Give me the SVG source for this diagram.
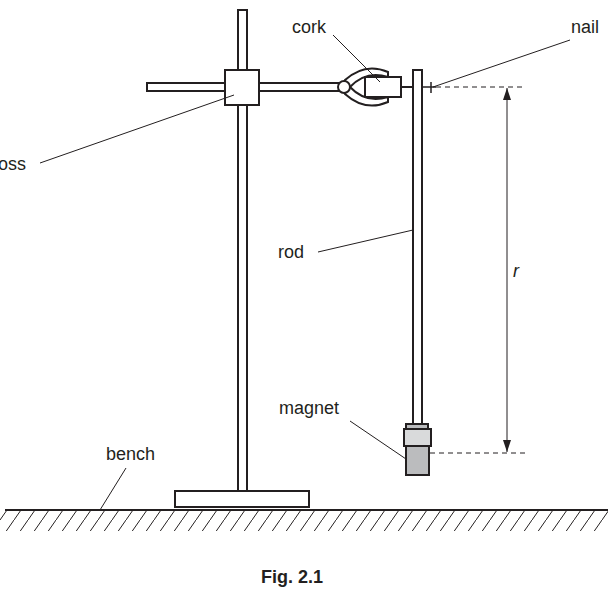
<svg xmlns="http://www.w3.org/2000/svg" width="608" height="590" viewBox="0 0 608 590">
<defs>
<style>
.s{fill:#fff;stroke:#231f20;stroke-width:2}
.l{stroke:#231f20;stroke-width:1;fill:none}
.d{stroke:#231f20;stroke-width:1;stroke-dasharray:5 4;fill:none}
text{font-family:"Liberation Sans",Arial,sans-serif;font-size:18px;fill:#231f20}
</style>
<marker id="a" markerWidth="12" markerHeight="8" refX="12" refY="4" orient="auto-start-reverse" markerUnits="userSpaceOnUse"><path d="M0,0 L12,4 L0,8 Z" fill="#231f20"/></marker>
<pattern id="h" width="14" height="20" patternUnits="userSpaceOnUse"><path d="M14,0 L0,20" stroke="#231f20" stroke-width="1"/></pattern>
</defs>
<g id="ground"><rect x="0" y="511" width="608" height="20" fill="url(#h)"/><line x1="5" y1="510" x2="608" y2="510" stroke="#231f20" stroke-width="2"/></g>
<g id="stand">
<rect class="s" x="238" y="10" width="9" height="482"/>
<rect class="s" x="175" y="491" width="134" height="16"/>
<rect class="s" x="147" y="83" width="195" height="8"/>
<rect class="s" x="225" y="70" width="34" height="35"/>
</g>
<g id="clamp">
<path class="s" d="M345,80 Q365,62 388,72 L388,77 Q366,70 350,87 Q366,104 388,97 L388,102 Q365,112 345,94 Z"/>
<circle class="s" cx="344" cy="87" r="6"/>
<rect class="s" x="365" y="77" width="36" height="20"/>
<line x1="401" y1="87" x2="412" y2="87" stroke="#231f20" stroke-width="2"/>
</g>
<g id="rod">
<rect class="s" x="413" y="70" width="9" height="355"/>
<line x1="422" y1="87" x2="436" y2="87" stroke="#231f20" stroke-width="1.5"/>
<line x1="431" y1="82" x2="431" y2="93" stroke="#231f20" stroke-width="1.5"/>
</g>
<g id="magnet">
<rect x="406" y="424" width="22" height="6" fill="#bbbcbe" stroke="#231f20" stroke-width="2"/>
<rect x="404" y="429" width="27" height="17" fill="#d9dadb" stroke="#231f20" stroke-width="2"/>
<rect x="406" y="446" width="23" height="29" fill="#bbbcbe" stroke="#231f20" stroke-width="2"/>
</g>
<g id="connectors">
<line class="d" x1="436" y1="87" x2="525" y2="87"/>
<line class="d" x1="430" y1="453" x2="525" y2="453"/>
<line class="l" x1="507" y1="88" x2="507" y2="452" marker-start="url(#a)" marker-end="url(#a)"/>
<line class="l" x1="40" y1="163" x2="234" y2="95"/>
<line class="l" x1="333" y1="35" x2="380" y2="82"/>
<line class="l" x1="570" y1="40" x2="433" y2="87"/>
<line class="l" x1="318" y1="252" x2="413" y2="230"/>
<line class="l" x1="350" y1="421" x2="406" y2="459"/>
<line class="l" x1="126" y1="468" x2="100" y2="510"/>
</g>
<g id="labels">
<text x="-2" y="170">oss</text>
<text x="292" y="33">cork</text>
<text x="571" y="33">nail</text>
<text x="278" y="258">rod</text>
<text x="513" y="277" font-style="italic">r</text>
<text x="279" y="414">magnet</text>
<text x="106" y="460">bench</text>
<text x="261" y="583" font-weight="bold">Fig. 2.1</text>
</g>
</svg>
